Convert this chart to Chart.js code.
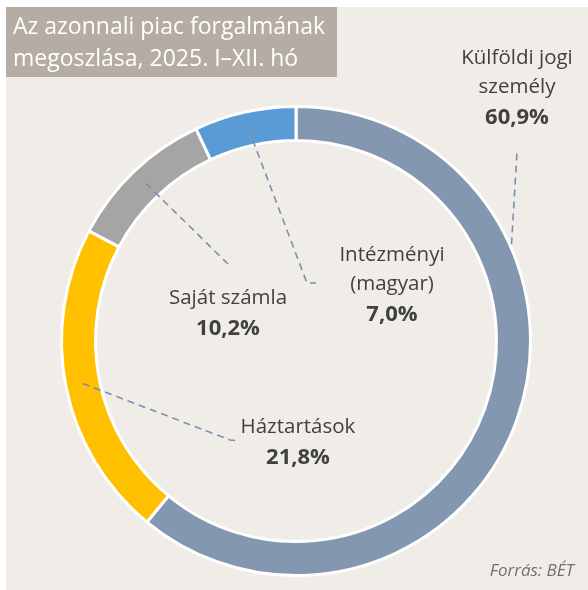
<!DOCTYPE html>
<html>
<head>
<meta charset="utf-8">
<script src="https://cdn.jsdelivr.net/npm/chart.js@4"></script>
<style>
  html, body { margin: 0; padding: 0; background: #ffffff; }
  #wrap { width: 588px; height: 590px; }
</style>
</head>
<body>
<div id="wrap"><canvas id="myChart" width="588" height="590"></canvas></div>
<script>
const categories = ['Külföldi jogi személy', 'Háztartások', 'Saját számla', 'Intézményi (magyar)'];
const shares = [60.9, 21.8, 10.2, 7.0];
const labelLines = [['Külföldi jogi', 'személy'], ['Háztartások'], ['Saját számla'], ['Intézményi', '(magyar)']];
const colors = ['#8497b0', '#ffc000', '#a5a5a5', '#5b9bd5'];

const titleLines = ['Az azonnali piac forgalmának', 'megoszlása, 2025. I–XII. hó'];
const source = 'Forrás: BÉT';

// where each label sits and how its dashed leader runs
const labelPos = [
  { x: 517, y: 58, anchor: 0.30, radial: 1.05, end: [517, 152] },
  { x: 298, y: 427, anchor: 0.5, radial: 0.5, end: [230, 440], elbow: [240, 441] },
  { x: 228, y: 298, anchor: 0.5, radial: 0.5, end: [228, 264] },
  { x: 392, y: 255, anchor: 0.5, radial: 0.5, end: [307, 283], elbow: [316, 283] }
];

const fmt = v => v.toFixed(1).replace('.', ',') + '%';

const backdrop = {
  id: 'backdrop',
  beforeDraw(chart) {
    const c = chart.ctx;
    c.save();
    c.fillStyle = '#ffffff';
    c.fillRect(0, 0, chart.width, chart.height);
    c.fillStyle = '#f0ede9';
    c.fillRect(6, 7, chart.width - 6, chart.height - 7);
    c.fillStyle = '#b5aca3';
    c.fillRect(6, 7, 331, 70);
    c.fillStyle = '#ffffff';
    c.font = '23px "Open Sans"';
    c.textBaseline = 'middle';
    c.fillText(titleLines[0], 13, 27);
    c.fillText(titleLines[1], 13, 59);
    c.restore();
  }
};

const sliceLabels = {
  id: 'sliceLabels',
  afterDraw(chart) {
    const c = chart.ctx;
    const arcs = chart.getDatasetMeta(0).data;
    c.save();
    arcs.forEach((arc, i) => {
      const p = labelPos[i];
      const a = arc.startAngle + (arc.endAngle - arc.startAngle) * p.anchor;
      const r = arc.innerRadius + (arc.outerRadius - arc.innerRadius) * p.radial;
      c.beginPath();
      c.setLineDash([7, 5]);
      c.strokeStyle = '#7a8fae';
      c.lineWidth = 1.6;
      c.moveTo(arc.x + Math.cos(a) * r, arc.y + Math.sin(a) * r);
      c.lineTo(p.end[0], p.end[1]);
      if (p.elbow) c.lineTo(p.elbow[0], p.elbow[1]);
      c.stroke();

      c.setLineDash([]);
      c.fillStyle = '#404040';
      c.textAlign = 'center';
      c.textBaseline = 'middle';
      c.font = '20.5px "Open Sans"';
      let y = p.y;
      labelLines[i].forEach(t => { c.fillText(t, p.x, y); y += 29.5; });
      c.font = 'bold 22px "Open Sans"';
      c.fillText(fmt(shares[i]), p.x, y + 1);
    });
    c.font = 'italic 17px "Open Sans"';
    c.fillStyle = '#707070';
    c.textAlign = 'right';
    c.textBaseline = 'middle';
    c.fillText(source, 574, 571);
    c.restore();
  }
};

const ctx = document.getElementById('myChart').getContext('2d');
const myChart = new Chart(ctx, {
  type: 'doughnut',
  data: {
    labels: categories,
    datasets: [{
      data: shares,
      backgroundColor: colors,
      borderColor: '#ffffff',
      borderWidth: 3
    }]
  },
  options: {
    responsive: false,
    animation: false,
    cutout: '85.5%',
    layout: { padding: { left: 60, right: 56, top: 105, bottom: 13 } },
    plugins: {
      legend: { display: false },
      tooltip: { enabled: false }
    }
  },
  plugins: [backdrop, sliceLabels]
});
</script>
</body>
</html>
